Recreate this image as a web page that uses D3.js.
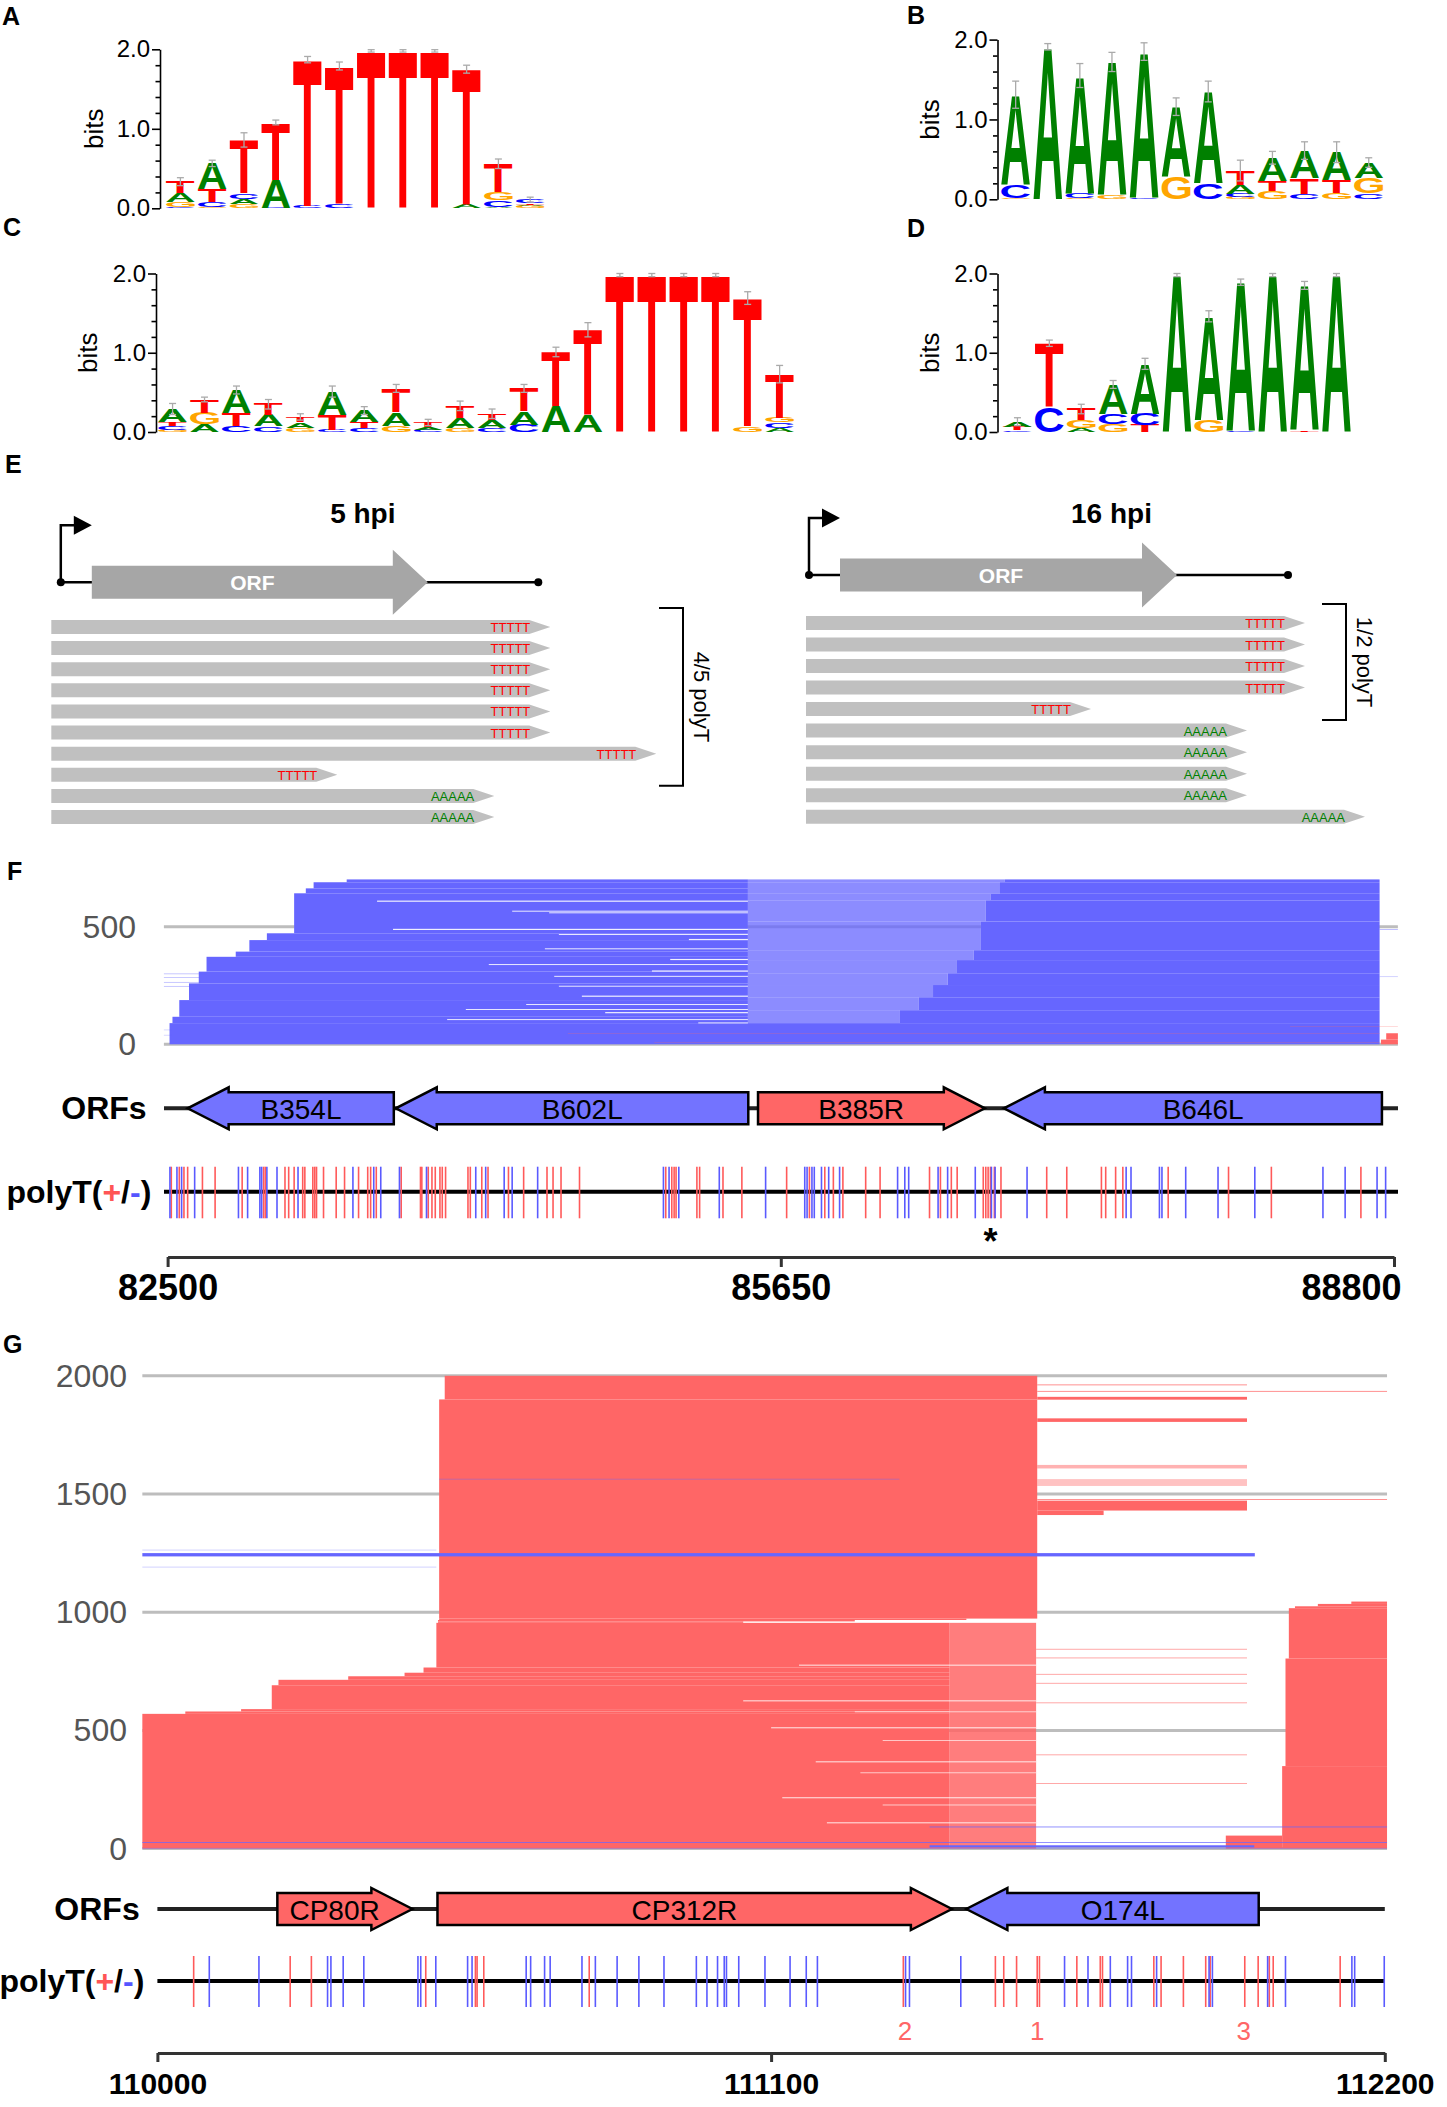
<!DOCTYPE html>
<html><head><meta charset="utf-8">
<script src="https://cdn.jsdelivr.net/npm/d3@7"></script>
<style>body{margin:0;background:#fff}svg{display:block}</style>
</head><body><svg id="fig" width="1447" height="2107"></svg>
<script>
// ================= DATA =================
// Sequence logos: each column listed bottom -> top as [base, bits]
const logoA=[
 [["C",0.015],["G",0.065],["A",0.11],["T",0.145]],
 [["G",0.015],["C",0.07],["T",0.16],["A",0.32]],
 [["G",0.05],["A",0.07],["C",0.07],["T",0.67]],
 [["C",0.01],["A",0.35],["T",0.72]],
 [["C",0.03],["T",1.84]],
 [["C",0.05],["T",1.74]],
 [["T",1.98]],[["T",1.98]],[["T",1.98]],
 [["A",0.04],["T",1.71]],
 [["A",0.02],["C",0.08],["G",0.1],["T",0.36]],
 [["G",0.025],["A",0.02],["T",0.02],["C",0.045]]];
const errA=[0.05,0.04,0.09,0.03,0.04,0.05,0.015,0.015,0.015,0.05,0.06,0.03];
const logoB=[
 [["G",0.02],["C",0.16],["A",1.13]],
 [["A",1.91]],
 [["G",0.02],["C",0.06],["A",1.47]],
 [["G",0.05],["A",1.67]],
 [["C",0.02],["A",1.83]],
 [["G",0.28],["A",0.88]],
 [["C",0.2],["A",1.15]],
 [["G",0.03],["C",0.04],["A",0.11],["T",0.18]],
 [["G",0.1],["T",0.13],["A",0.29]],
 [["C",0.07],["T",0.2],["A",0.34]],
 [["G",0.08],["T",0.16],["A",0.35]],
 [["C",0.07],["G",0.2],["A",0.19]]];
const errB=[0.17,0.04,0.15,0.12,0.11,0.11,0.13,0.13,0.08,0.11,0.13,0.06];
const logoC=[
 [["G",0.03],["C",0.04],["T",0.05],["A",0.17]],
 [["A",0.1],["G",0.14],["T",0.17]],
 [["C",0.08],["T",0.16],["A",0.29]],
 [["C",0.07],["A",0.14],["T",0.14]],
 [["G",0.05],["A",0.07],["T",0.07]],
 [["C",0.03],["T",0.19],["A",0.29]],
 [["C",0.05],["T",0.08],["A",0.14]],
 [["G",0.08],["A",0.17],["T",0.3]],
 [["C",0.03],["A",0.03],["T",0.06]],
 [["G",0.05],["A",0.13],["T",0.15]],
 [["C",0.05],["A",0.1],["T",0.08]],
 [["C",0.09],["A",0.17],["T",0.29]],
 [["A",0.33],["T",0.68]],
 [["A",0.21],["T",1.08]],
 [["T",1.98]],[["T",1.98]],[["T",1.98]],[["T",1.98]],
 [["G",0.07],["T",1.62]],
 [["A",0.05],["C",0.07],["G",0.06],["T",0.55]]];
const errC=[0.07,0.03,0.05,0.06,0.04,0.07,0.05,0.05,0.04,0.06,0.06,0.05,0.06,0.09,0.02,0.02,0.02,0.02,0.08,0.11];
const logoD=[
 [["C",0.02],["T",0.04],["A",0.07]],
 [["C",0.31],["T",0.81]],
 [["A",0.05],["G",0.1],["T",0.14]],
 [["G",0.1],["C",0.13],["A",0.37]],
 [["T",0.09],["C",0.14],["A",0.63]],
 [["A",1.98]],
 [["G",0.15],["A",1.31]],
 [["C",0.01],["A",1.88]],
 [["A",1.98]],
 [["T",0.02],["A",1.83]],
 [["A",1.98]]];
const errD=[0.05,0.04,0.06,0.05,0.07,0.02,0.07,0.04,0.02,0.05,0.02];

// Panel E schematic (units along transcript)
const e5Gene={promoter:19,orfStart:81,orfEnd:753,geneEnd:974};
const e16Gene={promoter:6,orfStart:68,orfEnd:742,geneEnd:964};
const e5ReadEnds=[998,998,998,998,998,998,1210,572,886,886];
const e5Tails=["T","T","T","T","T","T","T","T","A","A"];
const e16ReadEnds=[998,998,998,998,570,882,882,882,882,1118];
const e16Tails=["T","T","T","T","T","A","A","A","A","A"];
const eTitles=["5 hpi","16 hpi"];
const ePolyTLabels=["4/5 polyT","1/2 polyT"];
const ePolyTCounts=[8,5];

// Panel F (read pileup: [row0,row1,start,end,strand,coverage])
const fAxisTicks=[82500,85650,88800];
const fGridTicks=[0,500];
const fReadBands=[
 [0,90,82510,88726,"-",1],
 [90,117,82525,85481,"-",1],[117,188,82560,85481,"-",1],[188,259,82610,85481,"-",1],
 [259,309,82660,85481,"-",1],[309,372,82700,85481,"-",1],[372,394,82850,85481,"-",1],
 [394,443,82920,85481,"-",1],[443,472,83010,85481,"-",1],[472,642,83150,85481,"-",1],
 [642,663,83210,85481,"-",1],[663,689,83250,85481,"-",1],[689,701,83420,85481,"-",1],
 [90,145,85481,86262,"-",0.75],[145,200,85481,86359,"-",0.75],[200,252,85481,86432,"-",0.75],
 [252,302,85481,86507,"-",0.75],[302,358,85481,86555,"-",0.75],[358,400,85481,86641,"-",0.75],
 [400,522,85481,86678,"-",0.75],[522,612,85481,86703,"-",0.75],[612,640,85481,86727,"-",0.75],
 [640,689,85481,86776,"-",0.75],[689,701,85481,86801,"-",0.75],
 [90,145,86262,88726,"-",1],[145,200,86359,88726,"-",1],[200,252,86432,88726,"-",1],
 [252,302,86507,88726,"-",1],[302,358,86555,88726,"-",1],[358,400,86641,88726,"-",1],
 [400,522,86678,88726,"-",1],[522,612,86703,88726,"-",1],[612,640,86727,88726,"-",1],
 [640,689,86776,88726,"-",1],[689,701,86801,88726,"-",1],
 [245,248,82400,82620,"-",0.5],[262,265,82400,82670,"-",0.5],[283,286,82400,82700,"-",0.5],
 [298,301,82400,82700,"-",0.5],[60,62,82400,82520,"-",0.5],[38,40,82400,82520,"-",0.5],
 [486,489,88726,88820,"-",0.6],[286,288,88726,88820,"-",0.6],
 [7,8,85000,88726,"+",1],[44,45,84556,88726,"+",1],[75,76,88266,88820,"+",1],
 [0,20,88733,88820,"+",1],[20,47,88760,88820,"+",1]];
// rows of the left read cluster that stop early: [row, end, nRows]
const fEarlyEnds=[[606,83576,5],[564,84270,4],[557,84460,4],[486,83658,5],[465,84510,4],
 [443,85178,5],[404,84438,4],[358,85082,5],[337,84150,4],[309,84988,5],[287,84486,4],
 [245,84510,4],[202,84628,5],[167,84342,4],[146,84032,4],[132,84748,5],[103,83936,4],[89,85226,4]];
const fOrfNames=["B354L","B602L","B385R","B646L"];
const fOrfStart=[82603,83672,85533,86796];
const fOrfEnd=[83662,85483,86698,88738];
const fOrfStrand=["-","-","+","-"];
const fPolyTPlus=[82519,82560,82584,82603,82679,82744,82883,82993,83002,83103,83122,83150,83194,83205,
 83246,83256,83265,83301,83366,83409,83481,83528,83543,83572,83700,83799,83806,83839,83858,83875,83899,
 83911,83928,84043,84055,84114,84146,84251,84329,84449,84480,84521,84616,85059,85090,85102,85112,85219,
 85233,85353,85450,85680,85797,85876,85920,85969,86086,86160,86414,86470,86526,86556,86690,86703,86715,
 86727,86747,86781,87016,87119,87297,87319,87370,87407,87640,87950,88170,88630];
const fPolyTMinus=[82512,82548,82572,82639,82864,82911,82974,82983,83010,83062,83170,83452,83559,83595,
 83691,83830,84083,84134,84229,84270,84401,85047,85076,85126,85334,85572,85773,85785,85810,85822,85859,
 85896,85952,86250,86287,86307,86458,86507,86649,86732,86751,86915,87424,87449,87595,87608,87730,87896,
 88085,88435,88549,88713,88757];
const fSitePos=[86727];
const fSiteLabels=["*"];

// Panel G
const gAxisTicks=[110000,111100,112200];
const gGridTicks=[0,500,1000,1500,2000];
const gReadBands=[
 [0,570,109900,111420,"+",1],[570,580,110050,111420,"+",1],[580,590,110150,111420,"+",1],
 [590,691,110205,111420,"+",1],[691,714,110217,111420,"+",1],[714,729,110342,111420,"+",1],
 [729,744,110443,111420,"+",1],[744,766,110477,111420,"+",1],[766,955,110500,111420,"+",1],
 [0,955,111420,111575,"+",0.85],
 [955,961,110503,111050,"+",1],[961,967,110503,111250,"+",1],[967,973,110505,111450,"+",1],
 [973,1900,110505,111577,"+",1],[1900,2000,110515,111577,"+",1],
 [1899,1911,111577,111953,"+",1],[1805,1820,111577,111953,"+",1],[1608,1623,111577,111953,"+",0.5],
 [1534,1563,111577,111953,"+",0.4],[1430,1472,111577,111953,"+",1],[1411,1430,111577,111696,"+",1],
 [1933,1936,111577,112204,"+",1],[1475,1478,111577,112204,"+",1],[1960,1963,111577,111953,"+",1],
 [842,845,111575,111953,"+",0.8],[805,808,111575,111953,"+",0.8],[736,739,111575,111953,"+",0.8],
 [698,701,111575,111953,"+",0.8],[615,618,111575,111953,"+",0.8],[395,398,111575,111953,"+",0.8],
 [274,277,111575,111953,"+",0.8],
 [0,349,112016,112204,"+",1],[349,804,112022,112204,"+",1],[804,1017,112028,112204,"+",1],
 [1017,1025,112039,112204,"+",1],[1025,1035,112080,112204,"+",1],[1035,1045,112140,112204,"+",1],
 [0,55,111915,112016,"+",1],
 [1236,1250,109900,111967,"-",1],[1262,1264,109900,110500,"-",0.6],[1190,1192,109900,110500,"-",0.6],
 [1562,1564,110505,111330,"-",0.8],[24,27,109900,112204,"-",1],[90,93,111384,112204,"-",1],
 [5,14,111384,111966,"-",1],[0,3,109900,112204,"-",0.6]];
// rows of the lower G cluster that stop early: [row, end, nRows]
const gEarlyEnds=[[774,111150,4],[623,111050,4],[577,111250,3],[509,111100,4],[456,111300,3],
 [365,111180,4],[319,111260,3],[213,111120,4],[183,111300,3],[107,111200,4]];
const gOrfNames=["CP80R","CP312R","O174L"];
const gOrfStart=[110215,110502,111450];
const gOrfEnd=[110457,111424,111974];
const gOrfStrand=["+","+","-"];
const gPolyTPlus=[110065,110238,110276,110481,110570,110573,110585,110774,111337,111502,111517,111540,
 111577,111581,111648,111690,111694,111786,111799,111839,111879,111887,111949,111973,111993,112000,112120];
const gPolyTMinus=[110093,110182,110305,110311,110333,110370,110467,110472,110499,110556,110564,110661,
 110669,110694,110704,110761,110785,110824,110863,110908,110966,110985,111004,111016,111020,111042,111089,
 111134,111163,111183,111341,111348,111440,111626,111668,111708,111739,111746,111791,111885,111891,111990,
 112022,112141,112146,112199];
const gSitePos=[111340,111577,111947];
const gSiteLabels=["2","1","3"];

// ================= DRAWING =================
const FONT='"Liberation Sans", Arial, Helvetica, sans-serif';
const svg=d3.select("#fig").attr("font-family",FONT);
svg.append("rect").attr("width",1447).attr("height",2107).attr("fill","#fff");
const BASE={A:"#008000",C:"#0000ff",G:"#ffa500",T:"#ff0000"};
const BLUE="#6666ff",RED="#ff6666";

// panel letters
[["A",2,25],["B",907,24],["C",3,236],["D",907,237],["E",5,473],["F",7,880],["G",3,1353]].forEach(([t,x,y])=>
 svg.append("text").attr("x",x).attr("y",y).attr("font-size",25).attr("font-weight","bold").text(t));

// glyph ink metrics (letters are stretched to fill their stack slot)
const ctx=document.createElement("canvas").getContext("2d");
ctx.font='bold 100px "Liberation Sans", Arial, sans-serif';
const GM={};
for(const ch of "ACGT"){const m=ctx.measureText(ch);GM[ch]={l:m.actualBoundingBoxLeft,r:m.actualBoundingBoxRight,a:m.actualBoundingBoxAscent,d:m.actualBoundingBoxDescent};}

function drawLogo(c){
 const g=svg.append("g");
 const y=d3.scaleLinear().domain([0,2]).range([c.yBottom,c.yTop]);
 const x=d3.scaleBand().domain(d3.range(c.data.length)).range([c.x0,c.x0+c.step*c.data.length]).paddingInner(0.1).paddingOuter(0.05);
 const bw=x.bandwidth();
 c.data.forEach((col,i)=>{
  let cum=0;
  col.forEach(([ch,h])=>{
   const yt=y(cum+h),yb=y(cum);cum+=h;
   const hh=yb-yt; if(hh<0.25) return;
   const m=GM[ch];
   g.append("text").attr("font-size",100).attr("font-weight","bold").attr("fill",BASE[ch])
    .attr("transform",`translate(${x(i)},${yt}) scale(${bw/(m.l+m.r)},${hh/(m.a+m.d)}) translate(${m.l},${m.a})`).text(ch);
  });
  const e=c.err[i],cx=x(i)+bw/2;
  const eb=g.append("g").attr("stroke","#aaa").attr("stroke-width",1.3);
  eb.append("line").attr("x1",cx).attr("x2",cx).attr("y1",y(cum-e)).attr("y2",y(cum+e));
  [cum-e,cum+e].forEach(v=>eb.append("line").attr("x1",cx-3.5).attr("x2",cx+3.5).attr("y1",y(v)).attr("y2",y(v)));
 });
 const ax=g.append("g").attr("transform",`translate(${c.axisX},0)`)
  .call(d3.axisLeft(y).tickValues([0,1,2]).tickFormat(d3.format(".1f")).tickSize(8).tickSizeOuter(0).tickPadding(2));
 ax.selectAll("path,line").attr("stroke","#000").attr("stroke-width",1.6);
 ax.selectAll("text").attr("font-size",24).attr("font-family",FONT).attr("fill","#000");
 const mn=g.append("g").attr("transform",`translate(${c.axisX},0)`)
  .call(d3.axisLeft(y).tickValues([0.2,0.4,0.6,0.8,1.2,1.4,1.6,1.8]).tickSize(4.5).tickFormat(""));
 mn.select(".domain").remove(); mn.selectAll("line").attr("stroke","#000").attr("stroke-width",1.6);
 g.append("text").attr("transform",`translate(${c.bitsX},${(c.yTop+c.yBottom)/2}) rotate(-90)`)
  .attr("text-anchor","middle").attr("dominant-baseline","central").attr("font-size",26).text("bits");
}
drawLogo({data:logoA,err:errA,axisX:160,x0:164.5,step:31.8,yBottom:208.3,yTop:49.3,bitsX:94});
drawLogo({data:logoB,err:errB,axisX:997.5,x0:999.6,step:32.1,yBottom:199.3,yTop:39.6,bitsX:930});
drawLogo({data:logoC,err:errC,axisX:156,x0:156.6,step:31.95,yBottom:432,yTop:273.5,bitsX:88});
drawLogo({data:logoD,err:errD,axisX:997.5,x0:1001.5,step:31.9,yBottom:432,yTop:273.5,bitsX:930});

// Panel E
function drawE(c){
 const g=svg.append("g");
 const xs=d3.scaleLinear().domain([0,1000]).range([c.x0,c.x0+500]);
 const ys=d3.scalePoint().domain(d3.range(c.ends.length)).range([c.readY0,c.readY1]);
 const gy=c.geneY,gene=c.gene;
 const px=xs(gene.promoter),os=xs(gene.orfStart),oe=xs(gene.orfEnd),ge=xs(gene.geneEnd),hl=35;
 g.append("line").attr("x1",px).attr("x2",ge).attr("y1",gy).attr("y2",gy).attr("stroke","#000").attr("stroke-width",2.5);
 g.append("polygon").attr("points",[[os,gy-16.5],[oe-hl,gy-16.5],[oe-hl,gy-32.5],[oe,gy],[oe-hl,gy+32.5],[oe-hl,gy+16.5],[os,gy+16.5]].join(" ")).attr("fill","#a6a6a6");
 g.append("text").attr("x",(os+oe-hl)/2+10).attr("y",gy).attr("dominant-baseline","central").attr("text-anchor","middle")
  .attr("fill","#fff").attr("font-weight","bold").attr("font-size",21).text("ORF");
 g.append("path").attr("d",`M${px},${gy}V${gy-57}H${px+14}`).attr("fill","none").attr("stroke","#000").attr("stroke-width",2.5);
 g.append("polygon").attr("points",[[px+13,gy-66.5],[px+31,gy-57],[px+13,gy-47.5]].join(" ")).attr("fill","#000");
 [px,ge].forEach(v=>g.append("circle").attr("cx",v).attr("cy",gy).attr("r",4).attr("fill","#000"));
 g.append("text").attr("x",(os+oe)/2+103).attr("y",c.titleY).attr("text-anchor","middle").attr("font-weight","bold").attr("font-size",28).text(c.title);
 c.ends.forEach((e,i)=>{
  const y=ys(i),x0=xs(0),x1=xs(e),t=21;
  g.append("polygon").attr("points",[[x0,y-7],[x1-t,y-7],[x1,y],[x1-t,y+7],[x0,y+7]].join(" ")).attr("fill","#c0c0c0");
  g.append("text").attr("x",x1-t+1).attr("y",y+5).attr("text-anchor","end").attr("font-size",13)
   .attr("fill",c.tails[i]==="T"?"#ff0000":"#008000").text(c.tails[i].repeat(5));
 });
 const top=ys(0)-19,bot=ys(c.count-1)+11,bx=c.bracketX;
 g.append("path").attr("d",`M${bx-24},${top}H${bx}V${bot}H${bx-24}`).attr("fill","none").attr("stroke","#000").attr("stroke-width",2);
 g.append("text").attr("transform",`translate(${bx+18},${(top+bot)/2}) rotate(90)`).attr("text-anchor","middle")
  .attr("dominant-baseline","central").attr("font-size",22).text(c.label);
}
drawE({x0:51.3,readY0:627,readY1:817,geneY:582.3,titleY:523,gene:e5Gene,ends:e5ReadEnds,tails:e5Tails,title:eTitles[0],label:ePolyTLabels[0],count:ePolyTCounts[0],bracketX:683});
drawE({x0:806,readY0:623,readY1:816.7,geneY:575,titleY:523,gene:e16Gene,ends:e16ReadEnds,tails:e16Tails,title:eTitles[1],label:ePolyTLabels[1],count:ePolyTCounts[1],bracketX:1346});

// Panels F & G
function drawTrack(c){
 const g=svg.append("g");
 const xs=d3.scaleLinear().domain(c.xDomain).range(c.xRange);
 const ys=d3.scaleLinear().domain(c.rowDomain).range(c.rowRange);
 const wl=xs(c.win[0]),wr=xs(c.win[1]);
 c.grid.forEach(v=>{
  g.append("line").attr("x1",wl).attr("x2",wr).attr("y1",ys(v)).attr("y2",ys(v)).attr("stroke","#bdbdbd").attr("stroke-width",3);
  g.append("text").attr("x",c.yLabelRight).attr("y",ys(v)).attr("text-anchor","end").attr("dominant-baseline","central")
   .attr("font-size",32).attr("fill","#555").text(v);
 });
 g.append("g").selectAll("rect").data(c.bands).join("rect")
  .attr("x",d=>xs(Math.max(d[2],c.win[0])))
  .attr("width",d=>Math.max(0,xs(Math.min(d[3],c.win[1]))-xs(Math.max(d[2],c.win[0]))))
  .attr("y",d=>ys(d[1])).attr("height",d=>ys(d[0])-ys(d[1]))
  .attr("fill",d=>d[4]==="+"?RED:BLUE).attr("fill-opacity",d=>d[5]);
 if(c.early){
  g.append("g").selectAll("rect").data(c.early).join("rect")
   .attr("x",d=>xs(d[1])).attr("width",d=>xs(c.earlyEnd)-xs(d[1]))
   .attr("y",d=>ys(d[0]+d[2])).attr("height",d=>ys(d[0])-ys(d[0]+d[2])).attr("fill","#fff").attr("fill-opacity",0.9);
 }
 const oy=c.orfY;
 g.append("line").attr("x1",c.lineL).attr("x2",c.lineR).attr("y1",oy).attr("y2",oy).attr("stroke","#222").attr("stroke-width",4);
 g.append("text").attr("x",c.orfLabelRight).attr("y",oy).attr("text-anchor","end").attr("dominant-baseline","central")
  .attr("font-size",32).attr("font-weight","bold").text("ORFs");
 const hl=41,bh=16,hh=21;
 c.orfNames.forEach((nm,i)=>{
  const a=xs(c.orfStart[i]),b=xs(c.orfEnd[i]),plus=c.orfStrand[i]==="+";
  const pts=plus?[[a,oy-bh],[b-hl,oy-bh],[b-hl,oy-hh],[b,oy],[b-hl,oy+hh],[b-hl,oy+bh],[a,oy+bh]]
                :[[b,oy-bh],[a+hl,oy-bh],[a+hl,oy-hh],[a,oy],[a+hl,oy+hh],[a+hl,oy+bh],[b,oy+bh]];
  g.append("polygon").attr("points",pts.join(" ")).attr("fill",plus?RED:"#7373ff").attr("stroke","#000").attr("stroke-width",2.5);
  const cx=(a+b)/2+(plus?-hl/4:hl/4);
  g.append("text").attr("x",cx).attr("y",oy+1).attr("text-anchor","middle").attr("dominant-baseline","central").attr("font-size",28).text(nm);
 });
 const py=c.polyY;
 g.append("line").attr("x1",c.lineL).attr("x2",c.lineR).attr("y1",py).attr("y2",py).attr("stroke","#000").attr("stroke-width",4);
 const lab=g.append("text").attr("x",c.polyLabelRight).attr("y",py).attr("text-anchor","end").attr("dominant-baseline","central")
  .attr("font-size",32).attr("font-weight","bold");
 [["polyT(","#000"],["+","#ff5555"],["/","#000"],["-","#5555ff"],[")","#000"]].forEach(([t,col])=>lab.append("tspan").attr("fill",col).text(t));
 const tk=g.append("g").attr("stroke-width",1.6);
 c.polyPlus.forEach(p=>tk.append("line").attr("x1",xs(p)).attr("x2",xs(p)).attr("y1",c.polyTop).attr("y2",c.polyBottom).attr("stroke","#ff5a5a"));
 c.polyMinus.forEach(p=>tk.append("line").attr("x1",xs(p)).attr("x2",xs(p)).attr("y1",c.polyTop).attr("y2",c.polyBottom).attr("stroke","#5a5aff"));
 c.sitePos.forEach((p,i)=>g.append("text").attr("x",xs(p)).attr("y",c.siteY).attr("text-anchor","middle")
  .attr("font-size",c.siteFont).attr("font-weight",c.siteBold?"bold":"normal").attr("fill",c.siteColor).text(c.siteLabels[i]));
 const ag=g.append("g").attr("transform",`translate(0,${c.axisY})`)
  .call(d3.axisBottom(xs).tickValues(c.axisTicks).tickFormat(d3.format("d")).tickSize(c.tickLen).tickSizeOuter(0).tickPadding(c.tickPad));
 ag.selectAll("path,line").attr("stroke","#333").attr("stroke-width",3);
 ag.selectAll("text").attr("font-size",c.axisFont).attr("font-weight","bold").attr("font-family",FONT).attr("fill","#000");
 ag.selectAll(".tick").each(function(d){
  const t=d3.select(this).select("text"),bb=t.node().getBBox(),X=xs(d);
  let dx=0; if(X+bb.x+bb.width>c.labelMax) dx=c.labelMax-(X+bb.x+bb.width); if(X+bb.x<c.labelMin) dx=c.labelMin-(X+bb.x);
  t.attr("x",dx);
 });
}
drawTrack({xDomain:[82500,88800],xRange:[167.6,1394],win:[82481,88820],rowDomain:[0,500],rowRange:[1044.3,926.7],
 grid:fGridTicks,yLabelRight:136,bands:fReadBands,early:fEarlyEnds,earlyEnd:85481,
 orfY:1108.3,lineL:164,lineR:1398,orfLabelRight:146.6,orfNames:fOrfNames,orfStart:fOrfStart,orfEnd:fOrfEnd,orfStrand:fOrfStrand,
 polyY:1191.7,polyTop:1166.7,polyBottom:1218.3,polyLabelRight:151.3,polyPlus:fPolyTPlus,polyMinus:fPolyTMinus,
 sitePos:fSitePos,siteLabels:fSiteLabels,siteY:1254,siteFont:36,siteBold:true,siteColor:"#000",
 axisY:1257,axisTicks:fAxisTicks,tickLen:10,tickPad:7,axisFont:36,labelMin:108,labelMax:1401});
drawTrack({xDomain:[110000,112200],xRange:[157.4,1384.8],win:[109973,112204],rowDomain:[0,2000],rowRange:[1848.6,1375.8],
 grid:gGridTicks,yLabelRight:127,bands:gReadBands,early:gEarlyEnds,earlyEnd:111575,
 orfY:1909,lineL:157.4,lineR:1384.8,orfLabelRight:139.7,orfNames:gOrfNames,orfStart:gOrfStart,orfEnd:gOrfEnd,orfStrand:gOrfStrand,
 polyY:1981,polyTop:1956,polyBottom:2007,polyLabelRight:144.3,polyPlus:gPolyTPlus,polyMinus:gPolyTMinus,
 sitePos:gSitePos,siteLabels:gSiteLabels,siteY:2040,siteFont:26,siteBold:false,siteColor:"#ff6666",
 axisY:2053,axisTicks:gAxisTicks,tickLen:9,tickPad:11,axisFont:30,labelMin:0,labelMax:1447});
</script></body></html>
